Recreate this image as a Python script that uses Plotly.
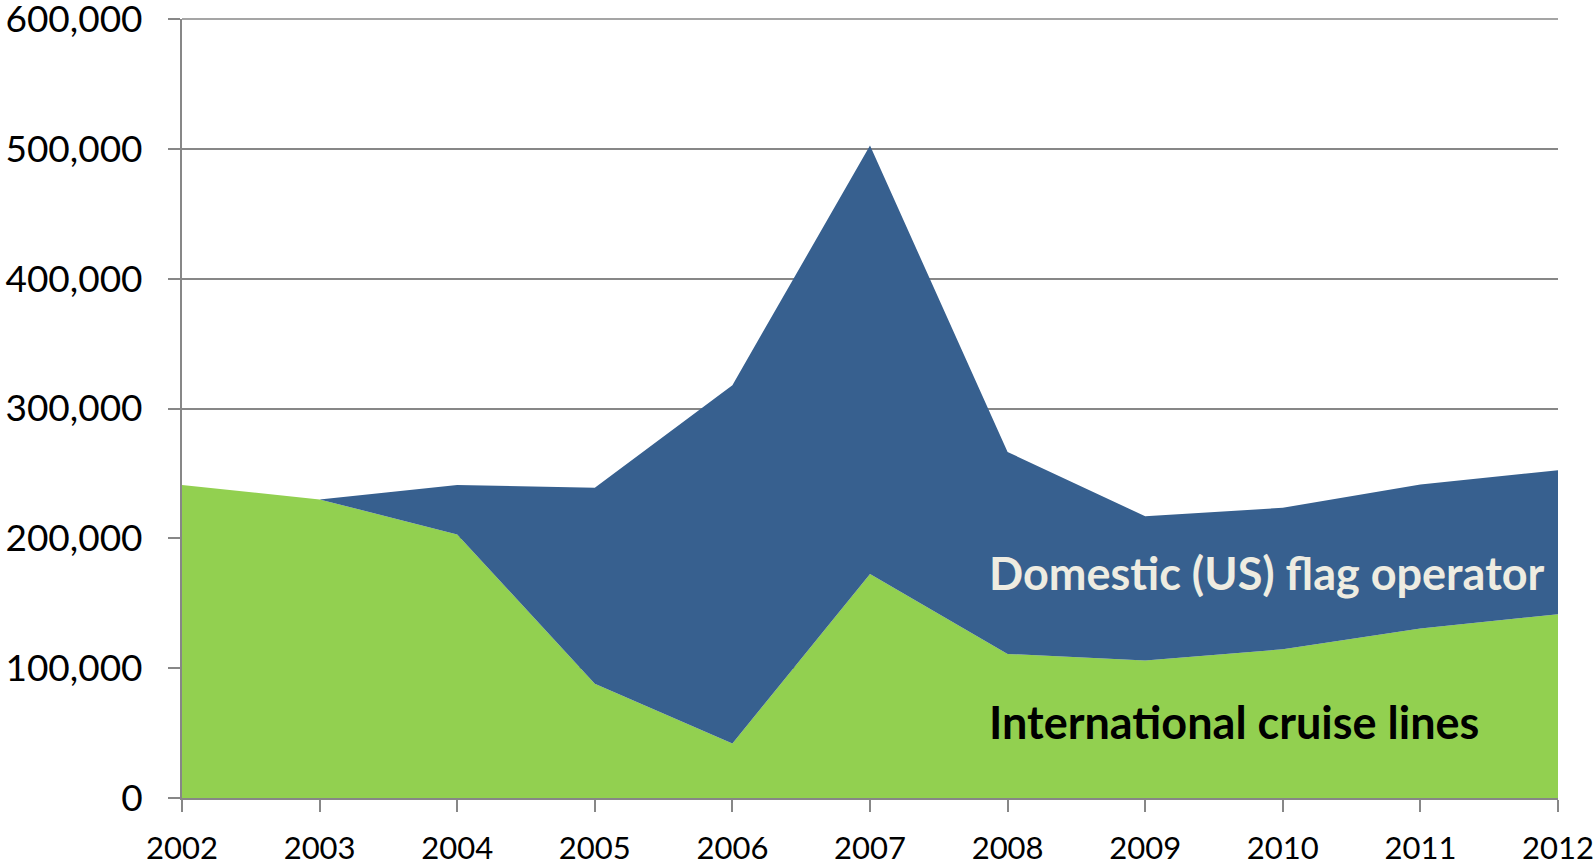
import plotly.graph_objects as go

years = [2002, 2003, 2004, 2005, 2006, 2007, 2008, 2009, 2010, 2011, 2012]
international = [241000, 230000, 203000, 88000, 42000, 172500, 111000, 106000, 114500, 130500, 141500]
domestic = [0, 0, 38000, 151000, 276000, 330000, 155500, 111000, 109000, 111000, 111000]
y_ticks = [0, 100000, 200000, 300000, 400000, 500000, 600000]

GREEN = "#92D050"
BLUE = "#37608F"
GRID = "#878787"

fig = go.Figure()
fig.add_trace(go.Scatter(
    x=years, y=international, mode="lines", stackgroup="one",
    line=dict(width=0, color=GREEN), fillcolor=GREEN,
    name="International cruise lines", hoverinfo="x+y"))
fig.add_trace(go.Scatter(
    x=years, y=domestic, mode="lines", stackgroup="one",
    line=dict(width=0, color=BLUE), fillcolor=BLUE,
    name="Domestic (US) flag operator", hoverinfo="x+y"))

fig.add_annotation(text="<b>Domestic (US) flag operator</b>", xref="paper", yref="y",
                   x=0.585, y=173000, xanchor="left", yanchor="middle", showarrow=False,
                   font=dict(family="Lato", size=45, color="#EEECE1"))
fig.add_annotation(text="<b>International cruise lines</b>", xref="paper", yref="y",
                   x=0.585, y=58500, xanchor="left", yanchor="middle", showarrow=False,
                   font=dict(family="Lato", size=45, color="#000000"))

# top gridline (plotly hides the gridline that sits on the plot edge)
fig.add_shape(type="line", xref="paper", yref="paper", x0=0, x1=1, y0=1, y1=1,
              line=dict(color=GRID, width=1.5), layer="below")

fig.update_layout(
    width=1596, height=865,
    margin=dict(l=182, r=38, t=19, b=67, autoexpand=False),
    paper_bgcolor="white", plot_bgcolor="white",
    showlegend=False,
    font=dict(family="Lato", color="black"),
)
fig.update_xaxes(
    range=[2002, 2012], tickmode="array", tickvals=years, ticktext=[str(y) for y in years],
    showgrid=False, showline=True, linecolor=GRID, linewidth=2,
    ticks="outside", ticklen=12, tickcolor=GRID, tickwidth=2,
    tickfont=dict(family="Lato", size=31, color="black"), ticklabelstandoff=10,
    ticklabeloverflow="allow", zeroline=False, automargin=False,
)
fig.update_yaxes(
    range=[0, 600000], tickmode="array", tickvals=y_ticks,
    ticktext=[f"{v:,}" for v in y_ticks],
    showgrid=True, gridcolor=GRID, gridwidth=1.5,
    showline=True, linecolor=GRID, linewidth=2,
    ticks="outside", ticklen=12, tickcolor=GRID, tickwidth=2,
    tickfont=dict(family="Lato", size=37, color="black"), ticklabelstandoff=18,
    ticklabeloverflow="allow", zeroline=False, automargin=False,
)

fig.write_html("out.html", config={"displayModeBar": False},
               post_script="document.body.style.margin='0';")
